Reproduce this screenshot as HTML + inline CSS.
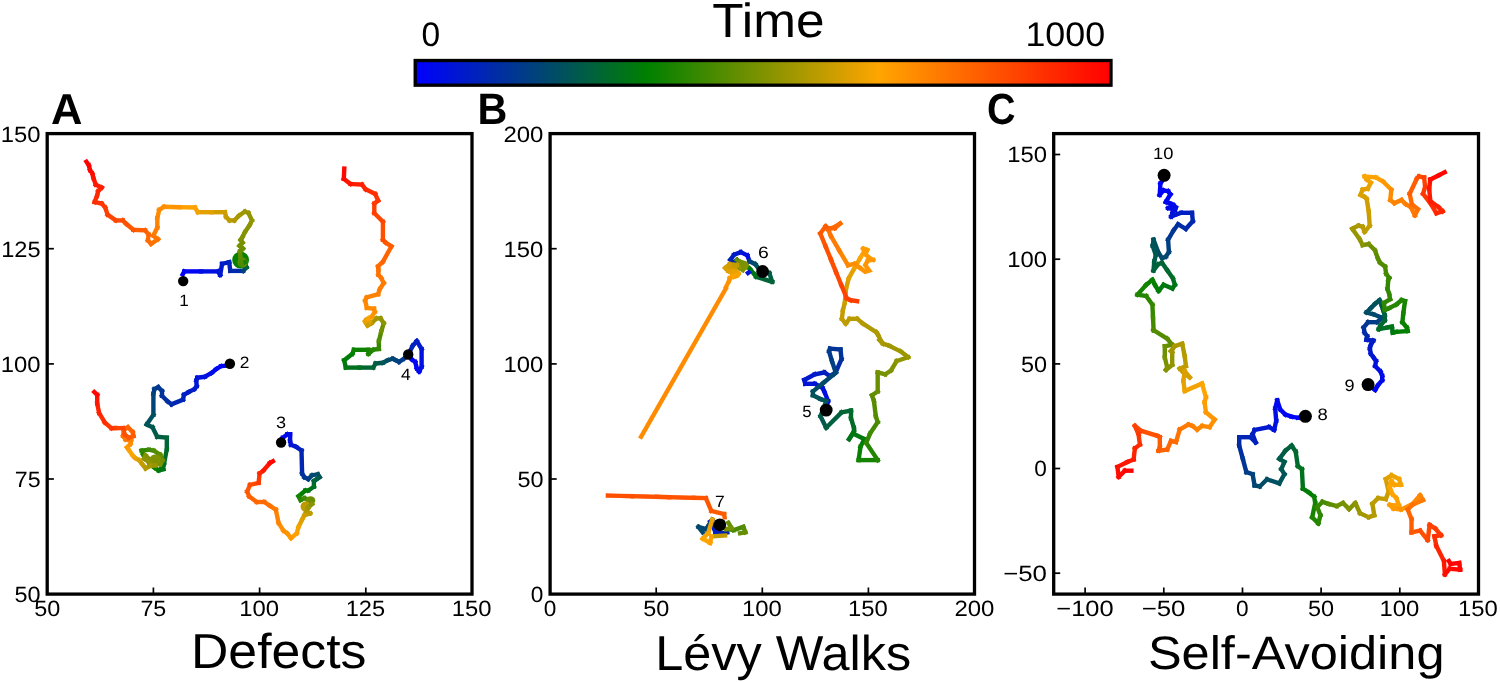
<!DOCTYPE html><html><head><meta charset="utf-8"><style>html,body{margin:0;padding:0;background:#fff;}svg{display:block;}text{font-family:"Liberation Sans",sans-serif;fill:#000;text-rendering:geometricPrecision;}svg{will-change:transform;}</style></head><body>
<svg width="1500" height="682" viewBox="0 0 1500 682">
<rect width="1500" height="682" fill="#fff"/>
<defs><linearGradient id="cb" x1="0" x2="1" y1="0" y2="0"><stop offset="0" stop-color="#0000ff"/><stop offset="0.3333" stop-color="#008000"/><stop offset="0.6667" stop-color="#ffa500"/><stop offset="1" stop-color="#ff0000"/></linearGradient></defs>
<rect x="415.2" y="60.5" width="695.8" height="24.7" fill="url(#cb)" stroke="#000" stroke-width="3.3"/>
<g fill="none" stroke-width="4.4" stroke-linecap="square" stroke-linejoin="miter" stroke-miterlimit="2">
<path d="M182.7 274.4 184.3 271.4" stroke="#0001fd"/>
<path d="M184.3 271.4 201.1 271.4" stroke="#0006f3"/>
<path d="M201.1 271.4 217.9 271.4" stroke="#000fe1"/>
<path d="M217.9 271.4 220.2 274.9" stroke="#0014d7"/>
<path d="M220.2 274.9 222.1 263.8" stroke="#0018cf"/>
<path d="M222.1 263.8 229.2 262.2" stroke="#001dc5"/>
<path d="M229.2 262.2 230.3 270.9" stroke="#0022bc"/>
<path d="M230.3 270.9 243.2 270.9" stroke="#002aac"/>
<path d="M243.2 270.9 246.5 267.4" stroke="#00417d"/>
<path d="M246.5 267.4 244.9 262.2" stroke="#006438"/>
<ellipse cx="240.6" cy="260" rx="8.4" ry="8.6" fill="#058100" stroke="none"/>
<ellipse cx="242.6" cy="262.5" rx="5.2" ry="5" fill="#618e00" stroke="none"/>
<path d="M244.9 262.2 241.6 264.1" stroke="#148300"/>
<path d="M241.6 264.1 240.4 257.3" stroke="#4e8b00"/>
<path d="M240.4 257.3 240 251.4" stroke="#618e00"/>
<path d="M240 251.4 243 248.6" stroke="#6a8f00"/>
<path d="M243 248.6 239.5 245.8" stroke="#6f9000"/>
<path d="M239.5 245.8 242.5 242.7" stroke="#739100"/>
<path d="M242.5 242.7 240.7 239.9" stroke="#769100"/>
<path d="M240.7 239.9 242.5 236.9" stroke="#7c9200"/>
<path d="M242.5 236.9 244.9 232.2" stroke="#829300"/>
<path d="M244.9 232.2 249.6 225.1" stroke="#879400"/>
<path d="M249.6 225.1 251.9 220.4" stroke="#8d9400"/>
<path d="M251.9 220.4 248.4 212.9" stroke="#919500"/>
<path d="M248.4 212.9 244.9 211.5" stroke="#959600"/>
<path d="M244.9 211.5 239 215.7" stroke="#9c9700"/>
<path d="M239 215.7 234.3 220.4" stroke="#a89800"/>
<path d="M234.3 220.4 229.6 220.4" stroke="#b29a00"/>
<path d="M229.6 220.4 226.1 216.9" stroke="#bb9b00"/>
<path d="M226.1 216.9 224.9 212.2" stroke="#c49c00"/>
<path d="M224.9 212.2 211.4 212.2" stroke="#d19e00"/>
<path d="M211.4 212.2 197.9 212.2" stroke="#e2a100"/>
<path d="M197.9 212.2 194.9 207.5" stroke="#f2a300"/>
<path d="M194.9 207.5 179.4 207.2" stroke="#ffa200"/>
<path d="M179.4 207.2 163.9 206.8" stroke="#ff9600"/>
<path d="M163.9 206.8 159.2 209.9" stroke="#ff8e00"/>
<path d="M159.2 209.9 157.3 218.1" stroke="#ff8900"/>
<path d="M157.3 218.1 157.3 227.5" stroke="#ff8400"/>
<path d="M157.3 227.5 153.3 235.7" stroke="#ff7e00"/>
<path d="M153.3 235.7 158 239.2" stroke="#ff7900"/>
<path d="M158 239.2 151 243.9" stroke="#ff7500"/>
<path d="M151 243.9 147.9 240.4" stroke="#ff7000"/>
<path d="M147.9 240.4 148.6 234.5" stroke="#ff6b00"/>
<path d="M148.6 234.5 145.1 230.3" stroke="#ff6600"/>
<path d="M145.1 230.3 133.4 229.8" stroke="#ff5e00"/>
<path d="M133.4 229.8 126.3 223.9" stroke="#ff5600"/>
<path d="M126.3 223.9 122.8 220.4" stroke="#ff5100"/>
<path d="M122.8 220.4 115.8 220.4" stroke="#ff4d00"/>
<path d="M115.8 220.4 107.6 214.6" stroke="#ff4600"/>
<path d="M107.6 214.6 105.2 207.5" stroke="#ff3f00"/>
<path d="M105.2 207.5 101.7 203.5" stroke="#ff3900"/>
<path d="M101.7 203.5 94.6 202.1" stroke="#ff3400"/>
<path d="M94.6 202.1 97 195.8" stroke="#ff2e00"/>
<path d="M97 195.8 98.2 191.1" stroke="#ff2900"/>
<path d="M98.2 191.1 101.7 187.6" stroke="#ff2500"/>
<path d="M101.7 187.6 95.8 184.7" stroke="#ff1f00"/>
<path d="M95.8 184.7 93.5 178.2" stroke="#ff1800"/>
<path d="M93.5 178.2 92.3 173.5" stroke="#ff1100"/>
<path d="M92.3 173.5 90 170" stroke="#ff0c00"/>
<path d="M90 170 88.8 165.3" stroke="#ff0700"/>
<path d="M88.8 165.3 86.4 161.7" stroke="#ff0200"/>
<path d="M226.8 365.6 221.1 366.2" stroke="#0002fb"/>
<path d="M221.1 366.2 216.3 369.1" stroke="#0005f5"/>
<path d="M216.3 369.1 211.6 372.9" stroke="#0009ed"/>
<path d="M211.6 372.9 204.9 376.7" stroke="#000de5"/>
<path d="M204.9 376.7 197.3 377.7" stroke="#0011dd"/>
<path d="M197.3 377.7 196.3 380.5" stroke="#0014d8"/>
<path d="M196.3 380.5 196.7 386.2" stroke="#0016d3"/>
<path d="M196.7 386.2 194.4 389.1" stroke="#0018cf"/>
<path d="M194.4 389.1 188.7 392" stroke="#001bca"/>
<path d="M188.7 392 183.9 394.8" stroke="#001dc4"/>
<path d="M183.9 394.8 183 399.6" stroke="#0020bf"/>
<path d="M183 399.6 171.5 404.3" stroke="#0026b3"/>
<path d="M171.5 404.3 167.7 401.5" stroke="#002ca8"/>
<path d="M167.7 401.5 162 395.8" stroke="#002fa1"/>
<path d="M162 395.8 162 391" stroke="#00339a"/>
<path d="M162 391 158.2 387.2" stroke="#003694"/>
<path d="M158.2 387.2 154.4 389.1" stroke="#00388f"/>
<path d="M154.4 389.1 153.4 393.9" stroke="#003b89"/>
<path d="M153.4 393.9 153.4 414.8" stroke="#004576"/>
<path d="M153.4 414.8 146.7 424.4" stroke="#00515e"/>
<path d="M146.7 424.4 152.5 427.2" stroke="#005654"/>
<path d="M152.5 427.2 157.2 436.8" stroke="#005a4c"/>
<path d="M157.2 436.8 166.8 437.7" stroke="#005f42"/>
<path d="M166.8 437.7 166.8 449.2" stroke="#006537"/>
<path d="M166.8 449.2 163.9 464.4" stroke="#006c28"/>
<path d="M163.9 464.4 160.1 469.8" stroke="#00711d"/>
<path d="M160.1 469.8 163.4 469.2" stroke="#00731a"/>
<path d="M163.4 469.2 158.5 470.4" stroke="#007516"/>
<path d="M158.5 470.4 154.5 467.6" stroke="#007b0a"/>
<path d="M154.5 467.6 149.7 463.5" stroke="#098100"/>
<path d="M149.7 463.5 143.2 454.7" stroke="#1c8400"/>
<path d="M143.2 454.7 141.6 450.6" stroke="#288600"/>
<path d="M141.6 450.6 148.9 449.8" stroke="#338700"/>
<path d="M148.9 449.8 153.7 450.6" stroke="#428a00"/>
<path d="M153.7 450.6 160.2 454.7" stroke="#528c00"/>
<path d="M160.2 454.7 162.6 460.3" stroke="#618e00"/>
<path d="M162.6 460.3 160.2 464.4" stroke="#709000"/>
<path d="M160.2 464.4 153.7 463.5" stroke="#7c9200"/>
<path d="M153.7 463.5 148.9 458.7 145.6 455.5" stroke="#809200"/>
<path d="M145.6 455.5 144 458.7" stroke="#839300"/>
<path d="M144 458.7 148.9 461.9" stroke="#8b9400"/>
<path d="M148.9 461.9 155.3 465.2" stroke="#939500"/>
<ellipse cx="155.5" cy="458.8" rx="5.8" ry="4.3" fill="#809200" stroke="none"/>
<path d="M155.3 465.2 149.7 466" stroke="#9a9600"/>
<path d="M149.7 466 145.6 468.4" stroke="#a69800"/>
<path d="M145.6 468.4 142.4 464.4" stroke="#b59a00"/>
<path d="M142.4 464.4 139.2 460.3" stroke="#c49c00"/>
<path d="M139.2 460.3 135.2 457.9" stroke="#d79f00"/>
<path d="M135.2 457.9 132.7 455.5" stroke="#eba200"/>
<path d="M132.7 455.5 128.7 449.8" stroke="#faa400"/>
<path d="M128.7 449.8 127.1 447.4" stroke="#ffa100"/>
<path d="M127.1 447.4 130.3 444.2" stroke="#ff9900"/>
<path d="M130.3 444.2 131.1 441" stroke="#ff9000"/>
<path d="M131.1 441 125.5 439.4" stroke="#ff8600"/>
<path d="M125.5 439.4 123.1 436.1" stroke="#ff7c00"/>
<path d="M123.1 436.1 123.9 429.7" stroke="#ff7200"/>
<path d="M123.9 429.7 127.9 427.3" stroke="#ff6a00"/>
<path d="M127.9 427.3 132.7 432.1" stroke="#ff6500"/>
<path d="M132.7 432.1 133.5 436.1" stroke="#ff6100"/>
<path d="M133.5 436.1 128.7 437.7" stroke="#ff5c00"/>
<path d="M128.7 437.7 124.7 434.5" stroke="#ff5700"/>
<path d="M124.7 434.5 123.1 428.1" stroke="#ff4f00"/>
<path d="M123.1 428.1 115 428.1" stroke="#ff4500"/>
<path d="M115 428.1 111.5 428.2" stroke="#ff3e00"/>
<path d="M111.5 428.2 104.8 422.5" stroke="#ff3700"/>
<path d="M104.8 422.5 99.1 412.9" stroke="#ff2d00"/>
<path d="M99.1 412.9 97.2 403.4" stroke="#ff2100"/>
<path d="M97.2 403.4 97.2 394.8" stroke="#ff1500"/>
<path d="M97.2 394.8 94.3 392" stroke="#ff0700"/>
<path d="M281.1 442.5 282.4 438.1" stroke="#0002fc"/>
<path d="M282.4 438.1 287.2 434.3" stroke="#0005f4"/>
<path d="M287.2 434.3 290.1 434.3" stroke="#0009ed"/>
<path d="M290.1 434.3 290.1 441" stroke="#000de6"/>
<path d="M290.1 441 291 444.8" stroke="#0011dd"/>
<path d="M291 444.8 295.8 446.7" stroke="#0015d5"/>
<path d="M295.8 446.7 301.5 450.5" stroke="#001bc9"/>
<path d="M301.5 450.5 302.1 473.4" stroke="#0026b2"/>
<path d="M302.1 473.4 304.4 477.2" stroke="#00319d"/>
<path d="M304.4 477.2 308.2 479.1" stroke="#003792"/>
<path d="M308.2 479.1 312 475.3" stroke="#003e83"/>
<path d="M312 475.3 317.7 474.3" stroke="#004870"/>
<path d="M317.7 474.3 319.6 477.2" stroke="#005060"/>
<path d="M319.6 477.2 316.7 479.1" stroke="#005653"/>
<path d="M316.7 479.1 313.9 481" stroke="#005d46"/>
<path d="M313.9 481 313.9 486.7" stroke="#006634"/>
<path d="M313.9 486.7 308.2 490.5" stroke="#00711e"/>
<path d="M308.2 490.5 305.3 490.5" stroke="#00790f"/>
<path d="M305.3 490.5 298.6 496.3" stroke="#018000"/>
<path d="M298.6 496.3 300.5 500.1" stroke="#168300"/>
<path d="M300.5 500.1 304.4 498.2" stroke="#298600"/>
<path d="M304.4 498.2 310.1 500.1" stroke="#428a00"/>
<ellipse cx="310.5" cy="500.5" rx="4.8" ry="4.2" fill="#698f00" stroke="none"/>
<ellipse cx="305.8" cy="506.5" rx="5.2" ry="5.3" fill="#bd9b00" stroke="none"/>
<path d="M310.1 500.1 312 503.9" stroke="#698f00"/>
<path d="M312 503.9 308.2 507.7" stroke="#8a9400"/>
<path d="M308.2 507.7 306.3 511.5" stroke="#9d9700"/>
<path d="M306.3 511.5 310.1 513.4" stroke="#ae9900"/>
<path d="M310.1 513.4 304.4 515.3" stroke="#c19c00"/>
<path d="M304.4 515.3 302.4 519.1" stroke="#d19e00"/>
<path d="M302.4 519.1 298.6 526.8" stroke="#e0a100"/>
<path d="M298.6 526.8 296.7 533.4" stroke="#f4a300"/>
<path d="M296.7 533.4 291 538.2" stroke="#ffa000"/>
<path d="M291 538.2 287.2 533.4" stroke="#ff9700"/>
<path d="M287.2 533.4 283.4 530.6" stroke="#ff9300"/>
<path d="M283.4 530.6 278.6 523" stroke="#ff8e00"/>
<path d="M278.6 523 275.8 509.6" stroke="#ff8300"/>
<path d="M275.8 509.6 270 505.8" stroke="#ff7800"/>
<path d="M270 505.8 264.3 502" stroke="#ff7100"/>
<path d="M264.3 502 256.7 502" stroke="#ff6b00"/>
<path d="M256.7 502 249.1 496.3" stroke="#ff6600"/>
<path d="M249.1 496.3 247.2 491.5" stroke="#ff5f00"/>
<path d="M247.2 491.5 250 484.8" stroke="#ff5700"/>
<path d="M250 484.8 258.6 482.9" stroke="#ff4b00"/>
<path d="M258.6 482.9 259.6 473.4" stroke="#ff3a00"/>
<path d="M259.6 473.4 263.4 470.5" stroke="#ff2800"/>
<path d="M263.4 470.5 270 462.9" stroke="#ff1700"/>
<path d="M270 462.9 272.9 461.2" stroke="#ff0600"/>
<path d="M408.4 354.2 411.9 359.5" stroke="#0001fd"/>
<path d="M411.9 359.5 415.2 361.9" stroke="#0003f9"/>
<path d="M415.2 361.9 416.8 368.4" stroke="#0005f5"/>
<path d="M416.8 368.4 419.2 371.6" stroke="#0007f1"/>
<path d="M419.2 371.6 421.6 366.8" stroke="#0009ed"/>
<path d="M421.6 366.8 421.6 349" stroke="#000fe2"/>
<path d="M421.6 349 416.8 341" stroke="#0017d1"/>
<path d="M416.8 341 412.7 345.8" stroke="#001ec4"/>
<path d="M412.7 345.8 409.5 352.3" stroke="#0023b9"/>
<path d="M409.5 352.3 403.9 358.7" stroke="#002ea3"/>
<path d="M403.9 358.7 399 361.9" stroke="#00398e"/>
<path d="M399 361.9 395.8 360.3" stroke="#003e84"/>
<path d="M395.8 360.3 392.6 358.7" stroke="#00427c"/>
<path d="M392.6 358.7 387.7 360.3" stroke="#004673"/>
<path d="M387.7 360.3 382.9 362.7" stroke="#004d66"/>
<path d="M382.9 362.7 375.6 363.5" stroke="#005752"/>
<path d="M375.6 363.5 373.2 367.6" stroke="#005e43"/>
<path d="M373.2 367.6 359.5 367.6" stroke="#006634"/>
<path d="M359.5 367.6 345.8 367.6" stroke="#00711d"/>
<path d="M345.8 367.6 344.2 360.3" stroke="#00790f"/>
<path d="M344.2 360.3 352.3 353.9" stroke="#007c07"/>
<path d="M352.3 353.9 353.9 349.8" stroke="#008000"/>
<path d="M353.9 349.8 368.4 349.8" stroke="#0c8200"/>
<path d="M368.4 349.8 368.4 353.9" stroke="#178300"/>
<path d="M368.4 353.9 373.2 349.8" stroke="#1f8400"/>
<path d="M373.2 349.8 378.9 349" stroke="#278600"/>
<path d="M378.9 349 378.9 341" stroke="#378800"/>
<path d="M378.9 341 381.3 331.3" stroke="#538c00"/>
<path d="M381.3 331.3 383.7 323.2" stroke="#719000"/>
<path d="M383.7 323.2 380.5 318.4" stroke="#889400"/>
<path d="M380.5 318.4 376.5 318.4" stroke="#969600"/>
<path d="M376.5 318.4 371.6 323.2" stroke="#a59800"/>
<path d="M371.6 323.2 367.6 325.6" stroke="#b69a00"/>
<ellipse cx="367.4" cy="321.5" rx="4.3" ry="4.8" fill="#e3a100" stroke="none"/>
<path d="M367.6 325.6 365.2 321.6" stroke="#cc9e00"/>
<path d="M365.2 321.6 368.4 318.4" stroke="#eba200"/>
<path d="M368.4 318.4 371.6 316.8" stroke="#ffa400"/>
<path d="M371.6 316.8 374.8 311.9" stroke="#ff9700"/>
<path d="M374.8 311.9 374 308.7" stroke="#ff8f00"/>
<path d="M374 308.7 366.8 307.9" stroke="#ff8c00"/>
<path d="M366.8 307.9 365.2 300.6" stroke="#ff8800"/>
<path d="M365.2 300.6 366.8 297.4" stroke="#ff8500"/>
<path d="M366.8 297.4 378.1 294.2" stroke="#ff8200"/>
<path d="M378.1 294.2 379.7 289.4" stroke="#ff7f00"/>
<path d="M379.7 289.4 383.7 282.9" stroke="#ff7d00"/>
<path d="M383.7 282.9 381.3 278.1" stroke="#ff7a00"/>
<path d="M381.3 278.1 378.4 274.8" stroke="#ff7700"/>
<path d="M378.4 274.8 378.4 270" stroke="#ff7300"/>
<path d="M378.4 270 378.1 266.4" stroke="#ff7100"/>
<path d="M378.1 266.4 382.9 261.7" stroke="#ff6d00"/>
<path d="M382.9 261.7 391.4 246.4" stroke="#ff6400"/>
<path d="M391.4 246.4 385.7 242.6" stroke="#ff5c00"/>
<path d="M385.7 242.6 382.9 239.8" stroke="#ff5800"/>
<path d="M382.9 239.8 382.9 221.7" stroke="#ff5000"/>
<path d="M382.9 221.7 374.3 213.1" stroke="#ff4600"/>
<path d="M374.3 213.1 374.3 203.6" stroke="#ff3e00"/>
<path d="M374.3 203.6 378.1 200.7" stroke="#ff3900"/>
<path d="M378.1 200.7 375.2 194" stroke="#ff3400"/>
<path d="M375.2 194 365.7 189.3" stroke="#ff2d00"/>
<path d="M365.7 189.3 361.9 184.5" stroke="#ff2500"/>
<path d="M361.9 184.5 350.5 184" stroke="#ff1e00"/>
<path d="M350.5 184 343.8 178.8" stroke="#ff1400"/>
<path d="M343.8 178.8 344.3 168.6" stroke="#ff0700"/>
<path d="M825.8 410.1 828.1 401" stroke="#0006f4"/>
<path d="M828.1 401 824.3 391.5" stroke="#000de5"/>
<path d="M824.3 391.5 822.4 387.7" stroke="#0010e0"/>
<path d="M822.4 387.7 814.8 383.8" stroke="#0012dc"/>
<path d="M814.8 383.8 805.2 383.8" stroke="#0015d6"/>
<path d="M805.2 383.8 804.3 380" stroke="#0016d2"/>
<path d="M804.3 380 814.8 374.3" stroke="#0019cd"/>
<path d="M814.8 374.3 824.3 372.4" stroke="#001dc5"/>
<path d="M824.3 372.4 830 376.2" stroke="#0021be"/>
<path d="M830 376.2 835.7 372.4" stroke="#0024b6"/>
<path d="M835.7 372.4 841.5 359.1" stroke="#002ca7"/>
<path d="M841.5 359.1 840.5 349.5" stroke="#00339a"/>
<path d="M840.5 349.5 830 348.6" stroke="#003596"/>
<path d="M830 348.6 829.1 351.4" stroke="#003693"/>
<path d="M829.1 351.4 831.9 361" stroke="#00398d"/>
<path d="M831.9 361 835.7 372.4" stroke="#003f82"/>
<path d="M835.7 372.4 833.8 374.3" stroke="#00427c"/>
<path d="M833.8 374.3 823.4 382.9" stroke="#004673"/>
<path d="M823.4 382.9 812.9 391.5" stroke="#004d65"/>
<path d="M812.9 391.5 812.9 395.3" stroke="#00515e"/>
<path d="M812.9 395.3 820.5 399.1" stroke="#00525b"/>
<path d="M820.5 399.1 826.2 401" stroke="#005458"/>
<path d="M826.2 401 820.5 416.2" stroke="#005653"/>
<path d="M820.5 416.2 826.2 427.7" stroke="#005a4b"/>
<path d="M826.2 427.7 841.5 412.4" stroke="#006040"/>
<path d="M841.5 412.4 851 410.5" stroke="#006634"/>
<path d="M851 410.5 851 418.2" stroke="#00692e"/>
<path d="M851 418.2 853.9 427.7" stroke="#006c27"/>
<path d="M853.9 427.7 853.9 431.5" stroke="#006f23"/>
<path d="M853.9 431.5 849.1 439.1" stroke="#00711d"/>
<path d="M849.1 439.1 852.9 433.4" stroke="#007517"/>
<path d="M852.9 433.4 864.3 439.1" stroke="#00780f"/>
<path d="M864.3 439.1 860.5 446.7" stroke="#007d06"/>
<path d="M860.5 446.7 858.6 460.1" stroke="#068100"/>
<path d="M858.6 460.1 877.7 460.1" stroke="#148300"/>
<path d="M877.7 460.1 866.2 442.9" stroke="#248500"/>
<path d="M866.2 442.9 870.1 433.4" stroke="#338700"/>
<path d="M870.1 433.4 877.7 422" stroke="#428a00"/>
<path d="M877.7 422 875.8 416.2" stroke="#4c8b00"/>
<path d="M875.8 416.2 873.9 401" stroke="#548c00"/>
<path d="M873.9 401 872 395.3" stroke="#5b8d00"/>
<path d="M872 395.3 877.7 391.5" stroke="#5f8e00"/>
<path d="M877.7 391.5 877.7 372.4" stroke="#698f00"/>
<path d="M877.7 372.4 885.3 374.3" stroke="#749100"/>
<path d="M885.3 374.3 891 370.5" stroke="#7a9200"/>
<path d="M891 370.5 896.7 361" stroke="#829300"/>
<path d="M896.7 361 908.2 357.2" stroke="#8f9500"/>
<path d="M908.2 357.2 900.6 351.4" stroke="#999600"/>
<path d="M900.6 351.4 889.1 345.7" stroke="#9e9700"/>
<path d="M889.1 345.7 883.4 343.8" stroke="#a29700"/>
<path d="M883.4 343.8 879.6 340" stroke="#a59800"/>
<path d="M879.6 340 881.9 342.6" stroke="#a69800"/>
<path d="M881.9 342.6 878.1 335" stroke="#a99800"/>
<path d="M878.1 335 876.2 332.1" stroke="#ab9900"/>
<path d="M876.2 332.1 862.9 323.6" stroke="#af9900"/>
<path d="M862.9 323.6 857.1 318.8" stroke="#b49a00"/>
<path d="M857.1 318.8 849.5 318.8" stroke="#b79b00"/>
<path d="M849.5 318.8 845.7 323.6" stroke="#bb9b00"/>
<path d="M845.7 323.6 841.9 318.8" stroke="#be9c00"/>
<path d="M841.9 318.8 842.9 310.2" stroke="#c29c00"/>
<path d="M842.9 310.2 844.8 302.6" stroke="#c69d00"/>
<path d="M844.8 302.6 846 289" stroke="#ce9e00"/>
<path d="M846 289 848.7 278.4" stroke="#d79f00"/>
<path d="M848.7 278.4 854.6 267.8" stroke="#e3a100"/>
<path d="M854.6 267.8 859.9 258.6" stroke="#f2a300"/>
<path d="M859.9 258.6 864.5 250.7" stroke="#ffa300"/>
<path d="M864.5 250.7 863.2 248.7" stroke="#ff9e00"/>
<path d="M863.2 248.7 867.2 250" stroke="#ff9d00"/>
<path d="M867.2 250 865.2 253.3" stroke="#ff9c00"/>
<path d="M865.2 253.3 865.9 254.6" stroke="#ff9b00"/>
<path d="M865.9 254.6 870.5 258.6" stroke="#ff9a00"/>
<path d="M870.5 258.6 873.1 259.9" stroke="#ff9900"/>
<path d="M873.1 259.9 867.8 260.6" stroke="#ff9700"/>
<path d="M867.8 260.6 865.2 265.2 869.2 270.5 865.2 271.8 859.9 267.8" stroke="#ff9500"/>
<path d="M859.9 267.8 854.6 263.9" stroke="#ff9200"/>
<path d="M854.6 263.9 848 265.2" stroke="#ff8d00"/>
<path d="M848 265.2 839.4 250.7" stroke="#ff8600"/>
<path d="M839.4 250.7 830.9 236.1" stroke="#ff7c00"/>
<path d="M830.9 236.1 828.2 229.5" stroke="#ff7400"/>
<path d="M828.2 229.5 834.8 226.9" stroke="#ff7100"/>
<path d="M834.8 226.9 840.1 223.6" stroke="#ff6e00"/>
<path d="M840.1 223.6 834.8 228.2" stroke="#ff6a00"/>
<path d="M834.8 228.2 826.9 228.2" stroke="#ff6500"/>
<path d="M826.9 228.2 825.6 226.2" stroke="#ff6100"/>
<path d="M825.6 226.2 820.3 233.5" stroke="#ff5c00"/>
<path d="M820.3 233.5 825.6 246.4" stroke="#ff5700"/>
<path d="M825.6 246.4 830.9 259.4" stroke="#ff5200"/>
<path d="M830.9 259.4 836.1 272.3" stroke="#ff4d00"/>
<path d="M836.1 272.3 841.4 285.3" stroke="#ff4800"/>
<path d="M841.4 285.3 846.7 298.2" stroke="#ff4300"/>
<path d="M846.7 298.2 850.7 300.2" stroke="#ff4000"/>
<path d="M850.7 300.2 857.1 301.2" stroke="#ff3d00"/>
<path d="M749.5 261.3 747.3 255.4" stroke="#000aec"/>
<path d="M747.3 255.4 740.7 252.1" stroke="#000fe0"/>
<path d="M740.7 252.1 734.1 254.7" stroke="#0017d1"/>
<path d="M734.1 254.7 730.4 259.8" stroke="#001fc2"/>
<path d="M730.4 259.8 733.3 262.7" stroke="#0024b6"/>
<path d="M733.3 262.7 737 259.8" stroke="#002aab"/>
<path d="M749.5 261.3 755.3 264.2" stroke="#004379"/>
<path d="M755.3 264.2 757.5 267.1" stroke="#00515e"/>
<path d="M766.3 271.5 769.3 273" stroke="#005a4b"/>
<path d="M769.3 273 772.2 281.8" stroke="#005e44"/>
<path d="M772.2 281.8 756.1 276.7" stroke="#006438"/>
<path d="M756.1 276.7 754.6 274.5" stroke="#006c29"/>
<path d="M754.6 274.5 750.2 269.3" stroke="#007516"/>
<path d="M750.2 269.3 745.8 264.9" stroke="#007f03"/>
<ellipse cx="742.5" cy="265.5" rx="6.3" ry="5.2" fill="#809200" stroke="none"/>
<path d="M737 259.8 740.7 262" stroke="#658f00"/>
<path d="M740.7 262 745.8 264.9" stroke="#789100"/>
<path d="M745.8 264.9 742.9 270.1 739.2 267.9" stroke="#809200"/>
<path d="M739.2 267.9 737 264.9" stroke="#8f9500"/>
<ellipse cx="731.5" cy="269.5" rx="6.2" ry="4.6" fill="#cc9e00" stroke="none"/>
<ellipse cx="735" cy="274" rx="5.5" ry="4.5" fill="#f2a300" stroke="none"/>
<path d="M737 264.9 729.7 264.2" stroke="#c49c00"/>
<path d="M729.7 264.2 725.3 267.9" stroke="#d09e00"/>
<path d="M725.3 267.9 728.2 270.8" stroke="#d79f00"/>
<path d="M728.2 270.8 733.3 271.5" stroke="#dfa000"/>
<path d="M733.3 271.5 738.5 273.7" stroke="#eba200"/>
<path d="M738.5 273.7 734.1 276.7" stroke="#f6a400"/>
<path d="M734.1 276.7 729.7 278.1" stroke="#ffa300"/>
<path d="M729.7 278.1 728.9 281.1" stroke="#ff9900"/>
<path d="M728.9 281.1 726 286.9" stroke="#ff9200"/>
<path d="M748 273 748.9 272.3" stroke="#0013d9"/>
<path d="M725.9 288.5 641.1 436.7" stroke="#ff8c00"/>
<path d="M710.2 521.6 712.3 524.8" stroke="#0015d5"/>
<path d="M712.3 524.8 715.5 532.3" stroke="#001bc9"/>
<path d="M715.5 532.3 720.9 533.3" stroke="#0021be"/>
<path d="M720.9 533.3 727.3 532.3" stroke="#0024b6"/>
<path d="M712.3 519.5 709.1 524.8" stroke="#003d85"/>
<path d="M709.1 524.8 705.9 529.1" stroke="#004379"/>
<path d="M705.9 529.1 698.5 526.9" stroke="#004575"/>
<path d="M698.5 526.9 702.7 532.3" stroke="#00496e"/>
<path d="M727.3 529.1 733.7 530.1" stroke="#3b8900"/>
<path d="M733.7 530.1 743.3 526.9" stroke="#4a8b00"/>
<path d="M743.3 526.9 745.4 532.3" stroke="#598d00"/>
<path d="M745.4 532.3 740.1 533.3" stroke="#658f00"/>
<path d="M728.3 522.7 731.5 528" stroke="#658f00"/>
<path d="M731.5 528 726.2 529.1" stroke="#789100"/>
<path d="M711.3 536.5 725.1 535.5" stroke="#c49c00"/>
<path d="M712.3 519.5 708.1 533.3" stroke="#eea300"/>
<path d="M708.1 533.3 702.7 538.7" stroke="#f6a400"/>
<path d="M702.7 538.7 710.2 542.9" stroke="#fea500"/>
<path d="M710.2 542.9 711.3 536.5" stroke="#ffa100"/>
<path d="M724.6 517.3 724.1 514.1" stroke="#ff6100"/>
<path d="M724.1 514.1 711.3 510.9" stroke="#ff5c00"/>
<path d="M711.3 510.9 705.9 498.1" stroke="#ff5700"/>
<path d="M705.9 498.1 693.7 497.8" stroke="#ff5400"/>
<path d="M693.7 497.8 681.4 497.5 669.2 497.2" stroke="#ff5300"/>
<path d="M669.2 497.2 656.9 496.8" stroke="#ff5200"/>
<path d="M656.9 496.8 644.6 496.5 632.4 496.2" stroke="#ff5100"/>
<path d="M632.4 496.2 620.1 495.9 607.9 495.5" stroke="#ff5000"/>
<path d="M1305.4 416.3 1297.8 417.7" stroke="#0001fd"/>
<path d="M1297.8 417.7 1291.6 416.7" stroke="#0002fb"/>
<path d="M1291.6 416.7 1285.5 414.6" stroke="#0004f8"/>
<path d="M1285.5 414.6 1280.3 409.5" stroke="#0005f5"/>
<path d="M1280.3 409.5 1277.2 400.3" stroke="#0007f2"/>
<path d="M1277.2 400.3 1275.2 408.5" stroke="#0009ec"/>
<path d="M1275.2 408.5 1276.2 420.8" stroke="#000de5"/>
<path d="M1276.2 420.8 1274.2 430" stroke="#0011dc"/>
<path d="M1274.2 430 1269 427" stroke="#0014d7"/>
<path d="M1269 427 1254.6 430" stroke="#0018cf"/>
<path d="M1254.6 430 1252.6 434.2" stroke="#001cc8"/>
<path d="M1252.6 434.2 1255.7 442.4" stroke="#001ec3"/>
<path d="M1255.7 442.4 1250.5 437.2" stroke="#0021bd"/>
<path d="M1250.5 437.2 1239.2 437.2" stroke="#0024b7"/>
<path d="M1239.2 437.2 1239.2 445.5" stroke="#0029ae"/>
<path d="M1239.2 445.5 1242.8 458.8" stroke="#002ea2"/>
<path d="M1242.8 458.8 1246.4 472.2" stroke="#003694"/>
<path d="M1246.4 472.2 1252.6 474.2" stroke="#003c88"/>
<path d="M1252.6 474.2 1254.6 485.5" stroke="#00427c"/>
<path d="M1254.6 485.5 1259.8 486.5" stroke="#004771"/>
<path d="M1259.8 486.5 1267 479.3" stroke="#004b6a"/>
<path d="M1267 479.3 1279.3 483.4" stroke="#004f62"/>
<path d="M1279.3 483.4 1284.4 474.2" stroke="#00535a"/>
<path d="M1284.4 474.2 1281.3 469.1" stroke="#005555"/>
<path d="M1281.3 469.1 1284.4 461.9" stroke="#005752"/>
<path d="M1284.4 461.9 1279.3 458.8" stroke="#00594e"/>
<path d="M1279.3 458.8 1285.5 450.6" stroke="#005b4a"/>
<path d="M1285.5 450.6 1291.6 445.5" stroke="#006040"/>
<path d="M1291.6 445.5 1295.7 451.6" stroke="#006536"/>
<path d="M1295.7 451.6 1297.8 466" stroke="#00692e"/>
<path d="M1297.8 466 1301.9 469.1" stroke="#006d26"/>
<path d="M1301.9 469.1 1302.9 488.6" stroke="#00721b"/>
<path d="M1302.9 488.6 1309.1 492.7" stroke="#007a0c"/>
<path d="M1309.1 492.7 1314.2 496.8" stroke="#008000"/>
<path d="M1314.2 496.8 1315.2 503" stroke="#098100"/>
<path d="M1315.2 503 1312.2 517.3" stroke="#148300"/>
<path d="M1312.2 517.3 1318.3 523.5" stroke="#208500"/>
<path d="M1318.3 523.5 1320.4 515.3" stroke="#288600"/>
<path d="M1320.4 515.3 1317.3 507.1" stroke="#308700"/>
<path d="M1317.3 507.1 1322.4 501.9" stroke="#378800"/>
<path d="M1322.4 501.9 1328.6 504" stroke="#458a00"/>
<path d="M1328.6 504 1336.8 506" stroke="#5c8d00"/>
<path d="M1336.8 506 1343 503" stroke="#6d9000"/>
<path d="M1343 503 1349.1 509.1" stroke="#779100"/>
<path d="M1349.1 509.1 1355.3 503" stroke="#829300"/>
<path d="M1355.3 503 1360 513.2" stroke="#8f9500"/>
<path d="M1360 513.2 1368.6 517.2" stroke="#a29700"/>
<path d="M1368.6 517.2 1374.3 515.3" stroke="#af9900"/>
<path d="M1374.3 515.3 1372.4 503.9" stroke="#b49a00"/>
<path d="M1372.4 503.9 1378.1 498.1" stroke="#ba9b00"/>
<path d="M1378.1 498.1 1385.8 499.1" stroke="#c19c00"/>
<path d="M1385.8 499.1 1388.6 491.5" stroke="#c99d00"/>
<path d="M1388.6 491.5 1385.8 479.1" stroke="#d49f00"/>
<path d="M1385.8 479.1 1391.5 475.3" stroke="#e0a100"/>
<path d="M1391.5 475.3 1399.1 479.1" stroke="#eca200"/>
<path d="M1399.1 479.1 1401 484.8" stroke="#f3a300"/>
<path d="M1401 484.8 1394.4 484.8" stroke="#f6a400"/>
<path d="M1394.4 484.8 1391.5 481" stroke="#f8a400"/>
<path d="M1391.5 481 1389.6 486.7" stroke="#fba400"/>
<path d="M1389.6 486.7 1392.5 494.3" stroke="#fea500"/>
<path d="M1392.5 494.3 1396.3 498.1" stroke="#ffa400"/>
<path d="M1396.3 498.1 1399.1 505.8" stroke="#ffa200"/>
<path d="M1399.1 505.8 1389.6 504.8" stroke="#ff9f00"/>
<path d="M1389.6 504.8 1393.4 508.6" stroke="#ff9d00"/>
<path d="M1393.4 508.6 1401 509.6" stroke="#ff9b00"/>
<path d="M1401 509.6 1412.5 503.9" stroke="#ff9400"/>
<path d="M1412.5 503.9 1420.1 495.3" stroke="#ff8a00"/>
<path d="M1420.1 495.3 1423 500.1" stroke="#ff8300"/>
<path d="M1423 500.1 1412.5 504.8" stroke="#ff7a00"/>
<path d="M1412.5 504.8 1407.7 509.6" stroke="#ff7100"/>
<path d="M1407.7 509.6 1411.5 519.1" stroke="#ff6800"/>
<path d="M1411.5 519.1 1411.5 532.5" stroke="#ff5e00"/>
<path d="M1411.5 532.5 1420.1 530.6" stroke="#ff5600"/>
<path d="M1420.1 530.6 1427.7 540.1" stroke="#ff4f00"/>
<path d="M1427.7 540.1 1429.6 524.8" stroke="#ff4700"/>
<path d="M1429.6 524.8 1435.4 528.7" stroke="#ff4200"/>
<path d="M1435.4 528.7 1441.1 535.3" stroke="#ff3d00"/>
<path d="M1441.1 535.3 1434.4 536.3" stroke="#ff3700"/>
<path d="M1434.4 536.3 1436.3 545.8" stroke="#ff3000"/>
<path d="M1436.3 545.8 1443.9 561.1" stroke="#ff2400"/>
<path d="M1443.9 561.1 1444.9 574.4" stroke="#ff1500"/>
<path d="M1444.9 574.4 1449.7 568.7" stroke="#ff0d00"/>
<path d="M1449.7 568.7 1460.2 569.7" stroke="#ff0a00"/>
<path d="M1460.2 569.7 1459.2 563" stroke="#ff0700"/>
<path d="M1459.2 563 1450.6 563.9" stroke="#ff0400"/>
<path d="M1450.6 563.9 1448.9 561.1" stroke="#ff0100"/>
<path d="M1368.1 384.6 1375.2 389.9" stroke="#0002fc"/>
<path d="M1375.2 389.9 1377.8 385.5" stroke="#0004f6"/>
<path d="M1377.8 385.5 1382.2 380.2" stroke="#0007f2"/>
<path d="M1382.2 380.2 1382.2 375.8" stroke="#0009ed"/>
<path d="M1382.2 375.8 1380.4 371.4" stroke="#000bea"/>
<path d="M1380.4 371.4 1375.2 366.1" stroke="#000de5"/>
<path d="M1375.2 366.1 1376 360.9" stroke="#0010df"/>
<path d="M1376 360.9 1373.4 357.3" stroke="#0012db"/>
<path d="M1373.4 357.3 1370.8 353.8" stroke="#0014d7"/>
<path d="M1370.8 353.8 1369.9 348.6" stroke="#0016d2"/>
<path d="M1369.9 348.6 1370.8 345" stroke="#0018ce"/>
<path d="M1370.8 345 1373.4 340.6" stroke="#001aca"/>
<path d="M1373.4 340.6 1366.4 339.8" stroke="#001dc5"/>
<path d="M1366.4 339.8 1367.2 336.2" stroke="#0021bd"/>
<path d="M1367.2 336.2 1364.6 332.7" stroke="#0027b1"/>
<path d="M1364.6 332.7 1363.7 327.5" stroke="#002ea3"/>
<path d="M1363.7 327.5 1368.1 322.2" stroke="#003497"/>
<path d="M1368.1 322.2 1376.9 322.2" stroke="#003a8b"/>
<path d="M1376.9 322.2 1382.2 317.8" stroke="#004080"/>
<path d="M1382.2 317.8 1373.4 314.3" stroke="#004674"/>
<path d="M1373.4 314.3 1366.4 312.5" stroke="#004b6a"/>
<path d="M1366.4 312.5 1370.8 308.1" stroke="#004e64"/>
<path d="M1370.8 308.1 1375.2 303.7" stroke="#00515f"/>
<path d="M1375.2 303.7 1379.6 300.2" stroke="#005359"/>
<path d="M1379.6 300.2 1381.3 304.6" stroke="#005653"/>
<path d="M1381.3 304.6 1383.1 309.9" stroke="#005a4c"/>
<path d="M1383.1 309.9 1384.8 315.2" stroke="#005e44"/>
<path d="M1384.8 315.2 1384.8 320.4" stroke="#00623c"/>
<path d="M1384.8 320.4 1380.4 325.7" stroke="#006634"/>
<path d="M1380.4 325.7 1378.7 329.2" stroke="#00692e"/>
<path d="M1378.7 329.2 1387.5 327.5" stroke="#006d26"/>
<path d="M1387.5 327.5 1391.9 326.6" stroke="#00711e"/>
<path d="M1391.9 326.6 1392.7 332.7" stroke="#007516"/>
<path d="M1392.7 332.7 1396.2 331.9" stroke="#00790f"/>
<path d="M1396.2 331.9 1407.7 331" stroke="#007e03"/>
<path d="M1407.7 331 1406.8 327.5" stroke="#068100"/>
<path d="M1406.8 327.5 1402.4 322.2" stroke="#088100"/>
<path d="M1402.4 322.2 1403.3 313.4" stroke="#0b8200"/>
<path d="M1403.3 313.4 1405 301.1" stroke="#138300"/>
<path d="M1405 301.1 1401.5 300.2" stroke="#1b8400"/>
<path d="M1401.5 300.2 1396.2 304.6" stroke="#208500"/>
<path d="M1396.2 304.6 1389.2 308.1" stroke="#268600"/>
<path d="M1389.2 308.1 1384.8 309.9" stroke="#2a8600"/>
<path d="M1384.8 309.9 1383.9 302.9" stroke="#2c8600"/>
<path d="M1383.9 302.9 1390.1 299.3" stroke="#2e8700"/>
<path d="M1390.1 299.3 1389.2 294.1" stroke="#2f8700"/>
<path d="M1389.2 294.1 1387.5 288.8" stroke="#308700"/>
<path d="M1387.5 288.8 1388.3 280" stroke="#328700"/>
<path d="M1388.3 280 1389.2 277.9" stroke="#358800"/>
<path d="M1389.2 277.9 1386.2 273.8" stroke="#3b8800"/>
<path d="M1386.2 273.8 1385.1 266.7" stroke="#448a00"/>
<path d="M1385.1 266.7 1380 262.6" stroke="#4e8b00"/>
<path d="M1380 262.6 1377.9 258.5" stroke="#548c00"/>
<path d="M1377.9 258.5 1374.9 250.3" stroke="#5c8d00"/>
<path d="M1374.9 250.3 1368.7 244.1" stroke="#6a8f00"/>
<path d="M1368.7 244.1 1362.6 245.1" stroke="#7a9200"/>
<path d="M1362.6 245.1 1359.5 239" stroke="#889400"/>
<path d="M1359.5 239 1352.3 228.7" stroke="#969600"/>
<path d="M1352.3 228.7 1358.5 225.6" stroke="#a49800"/>
<path d="M1358.5 225.6 1362.6 226.7" stroke="#af9900"/>
<path d="M1362.6 226.7 1364.6 231.8" stroke="#b89b00"/>
<path d="M1364.6 231.8 1369.7 225.6" stroke="#bf9c00"/>
<path d="M1369.7 225.6 1368.7 211.3" stroke="#c79d00"/>
<path d="M1368.7 211.3 1366.7 199" stroke="#d09e00"/>
<path d="M1366.7 199 1364.6 196.9" stroke="#d49f00"/>
<path d="M1364.6 196.9 1360.5 194.9" stroke="#d79f00"/>
<path d="M1360.5 194.9 1362.6 189.7" stroke="#daa000"/>
<path d="M1362.6 189.7 1367.7 188.7" stroke="#dfa000"/>
<path d="M1367.7 188.7 1370.8 182.6" stroke="#e7a100"/>
<path d="M1370.8 182.6 1366.7 179.5" stroke="#efa300"/>
<path d="M1366.7 179.5 1364.6 176.4" stroke="#f4a300"/>
<path d="M1364.6 176.4 1375.9 177.4" stroke="#fca500"/>
<path d="M1375.9 177.4 1383.1 181.5" stroke="#ffa100"/>
<path d="M1383.1 181.5 1391.3 189.7" stroke="#ff9700"/>
<path d="M1391.3 189.7 1390.3 200" stroke="#ff8c00"/>
<path d="M1390.3 200 1394.4 203.1" stroke="#ff8700"/>
<path d="M1394.4 203.1 1401.5 200" stroke="#ff8300"/>
<path d="M1401.5 200 1405.6 204.1" stroke="#ff7f00"/>
<path d="M1405.6 204.1 1410.8 207.2" stroke="#ff7d00"/>
<path d="M1410.8 207.2 1414.9 215.4" stroke="#ff7900"/>
<path d="M1414.9 215.4 1417.9 209.2" stroke="#ff7400"/>
<path d="M1417.9 209.2 1411.8 204.1" stroke="#ff6f00"/>
<path d="M1411.8 204.1 1409.7 193.8" stroke="#ff6900"/>
<path d="M1409.7 193.8 1416.9 178.5" stroke="#ff5f00"/>
<path d="M1416.9 178.5 1419 176.4" stroke="#ff5600"/>
<path d="M1419 176.4 1424.1 177.4" stroke="#ff4c00"/>
<path d="M1424.1 177.4 1425.1 186.7" stroke="#ff4200"/>
<path d="M1425.1 186.7 1423.1 193.8" stroke="#ff3c00"/>
<path d="M1423.1 193.8 1430.3 203.1" stroke="#ff3600"/>
<path d="M1430.3 203.1 1436.4 213.3" stroke="#ff2d00"/>
<path d="M1436.4 213.3 1442.6 211.3" stroke="#ff2600"/>
<path d="M1442.6 211.3 1438.5 207.2" stroke="#ff2400"/>
<path d="M1438.5 207.2 1430.3 201" stroke="#ff2000"/>
<path d="M1430.3 201 1429.2 188.7" stroke="#ff1b00"/>
<path d="M1429.2 188.7 1430.3 179.5" stroke="#ff1500"/>
<path d="M1430.3 179.5 1438.5 175.4" stroke="#ff0c00"/>
<path d="M1438.5 175.4 1444.7 172.3" stroke="#ff0400"/>
<path d="M1163.5 178.9 1160.4 183.5" stroke="#0001fe"/>
<path d="M1160.4 183.5 1159.7 195" stroke="#0003fa"/>
<path d="M1159.7 195 1163.5 190.4" stroke="#0004f6"/>
<path d="M1163.5 190.4 1168.1 191.2" stroke="#0005f5"/>
<path d="M1168.1 191.2 1170.4 194.3" stroke="#0006f3"/>
<path d="M1170.4 194.3 1165.8 202" stroke="#0007f1"/>
<path d="M1165.8 202 1170.4 203.5" stroke="#0008ef"/>
<path d="M1170.4 203.5 1173.5 205" stroke="#0009ee"/>
<path d="M1173.5 205 1168.1 208.1" stroke="#000aec"/>
<path d="M1168.1 208.1 1175.1 209.7" stroke="#000bea"/>
<path d="M1175.1 209.7 1175.8 207.4" stroke="#000be8"/>
<path d="M1175.8 207.4 1172.8 212" stroke="#000ee4"/>
<path d="M1172.8 212 1171.2 216.6" stroke="#0011dc"/>
<path d="M1171.2 216.6 1176.6 214.3" stroke="#0015d5"/>
<path d="M1176.6 214.3 1181.2 212.8" stroke="#0019cd"/>
<path d="M1181.2 212.8 1192 212.8" stroke="#001fc2"/>
<path d="M1192 212.8 1192.8 221.2" stroke="#0024b6"/>
<path d="M1192.8 221.2 1185.8 228.9" stroke="#0028af"/>
<path d="M1185.8 228.9 1178.1 224.3" stroke="#002ca7"/>
<path d="M1178.1 224.3 1173.5 230.5" stroke="#00309f"/>
<path d="M1173.5 230.5 1168.1 239.7" stroke="#003694"/>
<path d="M1168.1 239.7 1168.9 252" stroke="#003e84"/>
<path d="M1168.9 252 1165.8 256.7" stroke="#004379"/>
<path d="M1165.8 256.7 1162 258.2" stroke="#004771"/>
<path d="M1162 258.2 1158.1 252" stroke="#004a6b"/>
<path d="M1158.1 252 1153.5 239.7" stroke="#004e63"/>
<path d="M1153.5 239.7 1152.7 245.9" stroke="#00525b"/>
<path d="M1152.7 245.9 1155.8 255.1" stroke="#005654"/>
<path d="M1155.8 255.1 1154.3 261.3" stroke="#005a4c"/>
<path d="M1154.3 261.3 1153.5 270.5" stroke="#005e44"/>
<path d="M1153.5 270.5 1158.1 264.4" stroke="#00613d"/>
<path d="M1158.1 264.4 1162 262.8" stroke="#006339"/>
<path d="M1162 262.8 1167.4 270.5" stroke="#006634"/>
<path d="M1167.4 270.5 1172.8 278.2" stroke="#006a2d"/>
<path d="M1172.8 278.2 1174.9 284.8" stroke="#006f21"/>
<path d="M1174.9 284.8 1172.4 288.5" stroke="#007418"/>
<path d="M1172.4 288.5 1163.6 284.8" stroke="#007613"/>
<path d="M1163.6 284.8 1158.6 291" stroke="#00790d"/>
<path d="M1158.6 291 1154.9 284.8" stroke="#007d06"/>
<path d="M1154.9 284.8 1152.4 279.8" stroke="#018000"/>
<path d="M1152.4 279.8 1146.2 284.8" stroke="#098100"/>
<path d="M1146.2 284.8 1137.4 294.7" stroke="#158300"/>
<path d="M1137.4 294.7 1146.2 296" stroke="#218500"/>
<path d="M1146.2 296 1152.4 304.7" stroke="#2b8600"/>
<path d="M1152.4 304.7 1153 317.4" stroke="#368800"/>
<path d="M1153 317.4 1153.6 330.2" stroke="#438a00"/>
<path d="M1153.6 330.2 1153.5 330" stroke="#4a8b00"/>
<path d="M1153.5 330 1167.2 338.7" stroke="#518c00"/>
<path d="M1167.2 338.7 1172.2 344.9" stroke="#5c8d00"/>
<path d="M1172.2 344.9 1164.8 346.2" stroke="#638e00"/>
<path d="M1164.8 346.2 1164.8 357.4" stroke="#6b9000"/>
<path d="M1164.8 357.4 1167.2 367.3" stroke="#779100"/>
<path d="M1167.2 367.3 1166 369.8" stroke="#7f9200"/>
<path d="M1166 369.8 1172.2 364.8" stroke="#869300"/>
<path d="M1172.2 364.8 1172.2 352.4" stroke="#939500"/>
<path d="M1172.2 352.4 1171 351.1" stroke="#9d9700"/>
<path d="M1171 351.1 1174.7 346.2" stroke="#a29700"/>
<path d="M1174.7 346.2 1182.2 343.7" stroke="#a99800"/>
<path d="M1182.2 343.7 1184.7 356.1" stroke="#b09a00"/>
<path d="M1184.7 356.1 1185.9 366.1" stroke="#b99b00"/>
<path d="M1185.9 366.1 1179.7 368.6" stroke="#c09c00"/>
<path d="M1179.7 368.6 1183.4 372.3" stroke="#c69d00"/>
<path d="M1183.4 372.3 1189.7 377.3" stroke="#cd9e00"/>
<path d="M1189.7 377.3 1184.7 371.1" stroke="#d59f00"/>
<path d="M1184.7 371.1 1183.4 381" stroke="#dea000"/>
<path d="M1183.4 381 1184.7 391" stroke="#e7a200"/>
<path d="M1184.7 391 1202.1 383.5" stroke="#f2a300"/>
<path d="M1202.1 383.5 1205.9 397.2" stroke="#ffa500"/>
<path d="M1205.9 397.2 1204.6 402.2" stroke="#ffa000"/>
<path d="M1204.6 402.2 1205.9 412.2" stroke="#ff9c00"/>
<path d="M1205.9 412.2 1214.6 419.6" stroke="#ff9700"/>
<path d="M1214.6 419.6 1209.6 427.1" stroke="#ff9100"/>
<path d="M1209.6 427.1 1202.1 425.9" stroke="#ff8c00"/>
<path d="M1202.1 425.9 1197.1 429.6" stroke="#ff8700"/>
<path d="M1197.1 429.6 1192.2 425.9" stroke="#ff8300"/>
<path d="M1192.2 425.9 1188.4 424.6" stroke="#ff7f00"/>
<path d="M1188.4 424.6 1179.7 429.6" stroke="#ff7a00"/>
<path d="M1179.7 429.6 1176 442" stroke="#ff7200"/>
<path d="M1176 442 1171 440.8" stroke="#ff6c00"/>
<path d="M1171 440.8 1167.2 449.5" stroke="#ff6800"/>
<path d="M1167.2 449.5 1158.5 450.8" stroke="#ff6300"/>
<path d="M1158.5 450.8 1159.8 447" stroke="#ff5f00"/>
<path d="M1159.8 447 1159.8 437.1" stroke="#ff5c00"/>
<path d="M1159.8 437.1 1157.3 435.8" stroke="#ff5800"/>
<path d="M1157.3 435.8 1141.1 430.8" stroke="#ff5100"/>
<path d="M1141.1 430.8 1134.9 425.9" stroke="#ff4800"/>
<path d="M1134.9 425.9 1138.6 434.6" stroke="#ff4000"/>
<path d="M1138.6 434.6 1139.9 444.5" stroke="#ff3600"/>
<path d="M1139.9 444.5 1134.9 448.3" stroke="#ff2d00"/>
<path d="M1134.9 448.3 1133.6 459.5" stroke="#ff2400"/>
<path d="M1133.6 459.5 1127.4 462" stroke="#ff1c00"/>
<path d="M1127.4 462 1117.4 466.9" stroke="#ff1600"/>
<path d="M1117.4 466.9 1118.7 476.9" stroke="#ff0f00"/>
<path d="M1118.7 476.9 1124.9 470.7" stroke="#ff0900"/>
<path d="M1124.9 470.7 1131.4 470.7" stroke="#ff0300"/>
</g>
<circle cx="183.2" cy="281.1" r="5.2" fill="#000"/>
<circle cx="229.9" cy="363.7" r="5.2" fill="#000"/>
<circle cx="281.1" cy="442.5" r="5.2" fill="#000"/>
<circle cx="408.2" cy="354.5" r="5.2" fill="#000"/>
<circle cx="826.2" cy="410.1" r="6.4" fill="#000"/>
<circle cx="762.6" cy="271.5" r="6.4" fill="#000"/>
<circle cx="719.8" cy="524.8" r="6.4" fill="#000"/>
<circle cx="1305.4" cy="416.3" r="6.5" fill="#000"/>
<circle cx="1368.1" cy="384.6" r="6.5" fill="#000"/>
<circle cx="1164.1" cy="175.3" r="6.5" fill="#000"/>
<rect x="47.2" y="133.6" width="424.8" height="460.5" fill="none" stroke="#000" stroke-width="3.3"/>
<rect x="550.1" y="133.6" width="424.4" height="460.5" fill="none" stroke="#000" stroke-width="3.3"/>
<rect x="1053.7" y="133.6" width="424.8" height="460.5" fill="none" stroke="#000" stroke-width="3.3"/>
<line x1="47.2" y1="594.1" x2="47.2" y2="587.5" stroke="#000" stroke-width="1.7"/>
<line x1="153.4" y1="594.1" x2="153.4" y2="587.5" stroke="#000" stroke-width="1.7"/>
<line x1="259.6" y1="594.1" x2="259.6" y2="587.5" stroke="#000" stroke-width="1.7"/>
<line x1="365.8" y1="594.1" x2="365.8" y2="587.5" stroke="#000" stroke-width="1.7"/>
<line x1="472" y1="594.1" x2="472" y2="587.5" stroke="#000" stroke-width="1.7"/>
<line x1="47.2" y1="594.1" x2="53.9" y2="594.1" stroke="#000" stroke-width="1.7"/>
<line x1="47.2" y1="479" x2="53.9" y2="479" stroke="#000" stroke-width="1.7"/>
<line x1="47.2" y1="363.9" x2="53.9" y2="363.9" stroke="#000" stroke-width="1.7"/>
<line x1="47.2" y1="248.7" x2="53.9" y2="248.7" stroke="#000" stroke-width="1.7"/>
<line x1="47.2" y1="133.6" x2="53.9" y2="133.6" stroke="#000" stroke-width="1.7"/>
<line x1="550.1" y1="594.1" x2="550.1" y2="587.5" stroke="#000" stroke-width="1.7"/>
<line x1="656.2" y1="594.1" x2="656.2" y2="587.5" stroke="#000" stroke-width="1.7"/>
<line x1="762.3" y1="594.1" x2="762.3" y2="587.5" stroke="#000" stroke-width="1.7"/>
<line x1="868.4" y1="594.1" x2="868.4" y2="587.5" stroke="#000" stroke-width="1.7"/>
<line x1="974.5" y1="594.1" x2="974.5" y2="587.5" stroke="#000" stroke-width="1.7"/>
<line x1="550.1" y1="594.1" x2="556.7" y2="594.1" stroke="#000" stroke-width="1.7"/>
<line x1="550.1" y1="479" x2="556.7" y2="479" stroke="#000" stroke-width="1.7"/>
<line x1="550.1" y1="363.9" x2="556.7" y2="363.9" stroke="#000" stroke-width="1.7"/>
<line x1="550.1" y1="248.7" x2="556.7" y2="248.7" stroke="#000" stroke-width="1.7"/>
<line x1="550.1" y1="133.6" x2="556.7" y2="133.6" stroke="#000" stroke-width="1.7"/>
<line x1="1085.1" y1="594.1" x2="1085.1" y2="587.5" stroke="#000" stroke-width="1.7"/>
<line x1="1163.8" y1="594.1" x2="1163.8" y2="587.5" stroke="#000" stroke-width="1.7"/>
<line x1="1242.5" y1="594.1" x2="1242.5" y2="587.5" stroke="#000" stroke-width="1.7"/>
<line x1="1321.1" y1="594.1" x2="1321.1" y2="587.5" stroke="#000" stroke-width="1.7"/>
<line x1="1399.8" y1="594.1" x2="1399.8" y2="587.5" stroke="#000" stroke-width="1.7"/>
<line x1="1478.5" y1="594.1" x2="1478.5" y2="587.5" stroke="#000" stroke-width="1.7"/>
<line x1="1053.7" y1="573.2" x2="1060.2" y2="573.2" stroke="#000" stroke-width="1.7"/>
<line x1="1053.7" y1="468.5" x2="1060.2" y2="468.5" stroke="#000" stroke-width="1.7"/>
<line x1="1053.7" y1="363.9" x2="1060.2" y2="363.9" stroke="#000" stroke-width="1.7"/>
<line x1="1053.7" y1="259.2" x2="1060.2" y2="259.2" stroke="#000" stroke-width="1.7"/>
<line x1="1053.7" y1="154.5" x2="1060.2" y2="154.5" stroke="#000" stroke-width="1.7"/>
<text x="34.2" y="616" font-size="22.11" textLength="26.05" lengthAdjust="spacingAndGlyphs">50</text>
<text x="140.4" y="616" font-size="22.11" textLength="25.85" lengthAdjust="spacingAndGlyphs">75</text>
<text x="239.3" y="616" font-size="22.11" textLength="39.78" lengthAdjust="spacingAndGlyphs">100</text>
<text x="345.7" y="616" font-size="22.11" textLength="39.39" lengthAdjust="spacingAndGlyphs">125</text>
<text x="451.7" y="616" font-size="22.11" textLength="39.78" lengthAdjust="spacingAndGlyphs">150</text>
<text x="14.5" y="602" font-size="22.11" textLength="26.05" lengthAdjust="spacingAndGlyphs">50</text>
<text x="14.8" y="487" font-size="22.11" textLength="25.85" lengthAdjust="spacingAndGlyphs">75</text>
<text x="0.8" y="372" font-size="22.11" textLength="39.78" lengthAdjust="spacingAndGlyphs">100</text>
<text x="1.2" y="257" font-size="22.11" textLength="39.39" lengthAdjust="spacingAndGlyphs">125</text>
<text x="0.8" y="142" font-size="22.11" textLength="39.78" lengthAdjust="spacingAndGlyphs">150</text>
<text x="543.8" y="616" font-size="22.11" textLength="12.59" lengthAdjust="spacingAndGlyphs">0</text>
<text x="643.2" y="616" font-size="22.11" textLength="26.05" lengthAdjust="spacingAndGlyphs">50</text>
<text x="742" y="616" font-size="22.11" textLength="39.78" lengthAdjust="spacingAndGlyphs">100</text>
<text x="848.1" y="616" font-size="22.11" textLength="39.78" lengthAdjust="spacingAndGlyphs">150</text>
<text x="954.4" y="616" font-size="22.11" textLength="40.00" lengthAdjust="spacingAndGlyphs">200</text>
<text x="530.8" y="602" font-size="22.11" textLength="12.59" lengthAdjust="spacingAndGlyphs">0</text>
<text x="517.4" y="487" font-size="22.11" textLength="26.05" lengthAdjust="spacingAndGlyphs">50</text>
<text x="503.6" y="372" font-size="22.11" textLength="39.78" lengthAdjust="spacingAndGlyphs">100</text>
<text x="503.6" y="257" font-size="22.11" textLength="39.78" lengthAdjust="spacingAndGlyphs">150</text>
<text x="503.4" y="142" font-size="22.11" textLength="40.00" lengthAdjust="spacingAndGlyphs">200</text>
<text x="1056.3" y="616" font-size="22.11" textLength="57.33" lengthAdjust="spacingAndGlyphs">−100</text>
<text x="1141.7" y="616" font-size="22.11" textLength="43.81" lengthAdjust="spacingAndGlyphs">−50</text>
<text x="1236.1" y="616" font-size="22.11" textLength="12.59" lengthAdjust="spacingAndGlyphs">0</text>
<text x="1308.1" y="616" font-size="22.11" textLength="26.05" lengthAdjust="spacingAndGlyphs">50</text>
<text x="1379.5" y="616" font-size="22.11" textLength="39.78" lengthAdjust="spacingAndGlyphs">100</text>
<text x="1458.1" y="616" font-size="22.11" textLength="39.78" lengthAdjust="spacingAndGlyphs">150</text>
<text x="1003.2" y="581" font-size="22.11" textLength="43.81" lengthAdjust="spacingAndGlyphs">−50</text>
<text x="1034.3" y="476" font-size="22.11" textLength="12.59" lengthAdjust="spacingAndGlyphs">0</text>
<text x="1020.9" y="372" font-size="22.11" textLength="26.05" lengthAdjust="spacingAndGlyphs">50</text>
<text x="1007.2" y="267" font-size="22.11" textLength="39.78" lengthAdjust="spacingAndGlyphs">100</text>
<text x="1007.2" y="162" font-size="22.11" textLength="39.78" lengthAdjust="spacingAndGlyphs">150</text>
<text x="712.3" y="37" font-size="47.85" textLength="112.14" lengthAdjust="spacingAndGlyphs">Time</text>
<text x="421.5" y="46" font-size="34.04" textLength="18.64" lengthAdjust="spacingAndGlyphs">0</text>
<text x="1025.4" y="46" font-size="34.04" textLength="79.71" lengthAdjust="spacingAndGlyphs">1000</text>
<text x="51" y="124" font-size="43.35" font-weight="bold" textLength="31.47" lengthAdjust="spacingAndGlyphs">A</text>
<text x="477.4" y="124" font-size="43.85" font-weight="bold" textLength="29.83" lengthAdjust="spacingAndGlyphs">B</text>
<text x="987" y="124" font-size="43.58" font-weight="bold" textLength="28.56" lengthAdjust="spacingAndGlyphs">C</text>
<text x="191" y="668" font-size="49.16" textLength="175.39" lengthAdjust="spacingAndGlyphs">Defects</text>
<text x="655.2" y="670" font-size="49.02" textLength="256.04" lengthAdjust="spacingAndGlyphs">Lévy Walks</text>
<text x="1147.9" y="669" font-size="46.90" textLength="296.61" lengthAdjust="spacingAndGlyphs">Self-Avoiding</text>
<text x="179.2" y="306" font-size="16.44" textLength="9.52" lengthAdjust="spacingAndGlyphs">1</text>
<text x="239.8" y="368" font-size="16.44" textLength="9.66" lengthAdjust="spacingAndGlyphs">2</text>
<text x="276" y="428" font-size="16.44" textLength="10.07" lengthAdjust="spacingAndGlyphs">3</text>
<text x="401.1" y="380" font-size="16.44" textLength="9.69" lengthAdjust="spacingAndGlyphs">4</text>
<text x="802.3" y="417" font-size="16.44" textLength="9.37" lengthAdjust="spacingAndGlyphs">5</text>
<text x="758" y="258" font-size="16.44" textLength="10.82" lengthAdjust="spacingAndGlyphs">6</text>
<text x="715.1" y="507" font-size="16.44" textLength="9.83" lengthAdjust="spacingAndGlyphs">7</text>
<text x="1317.5" y="420" font-size="16.44" textLength="10.30" lengthAdjust="spacingAndGlyphs">8</text>
<text x="1344.4" y="391" font-size="16.44" textLength="10.10" lengthAdjust="spacingAndGlyphs">9</text>
<text x="1153.1" y="159" font-size="16.44" textLength="20.41" lengthAdjust="spacingAndGlyphs">10</text>
</svg></body></html>
